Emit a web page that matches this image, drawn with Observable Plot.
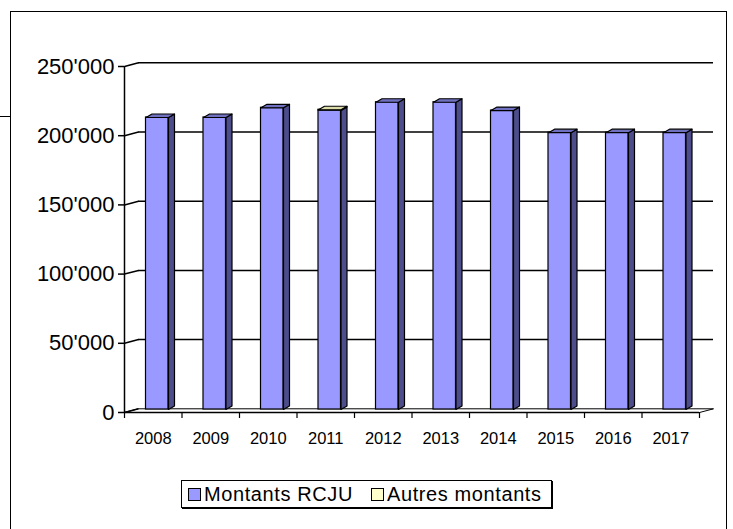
<!DOCTYPE html>
<html>
<head>
<meta charset="utf-8">
<script src="https://cdn.jsdelivr.net/npm/d3@7"></script>
<script src="https://cdn.jsdelivr.net/npm/@observablehq/plot@0.6"></script>
<style>
  body { margin: 0; background: white; font-family: "Liberation Sans", Arial, sans-serif; }
  #wrap { position: relative; width: 733px; height: 529px; overflow: hidden; }
  #frame { position: absolute; left: 10px; top: 11px; width: 715px; height: 540px; border: 1px solid #000; }
  #frag { position: absolute; left: 0; top: 116px; width: 10px; height: 1px; background: #000; }
  #chart { position: absolute; left: 0; top: 0; }
  #legend { position: absolute; left: 181px; top: 480px; width: 369px; height: 26px; border: 1px solid #000;
            box-shadow: 1px 1px 0 #000; font-size: 20px; letter-spacing: 0.6px; color: #000; }
  .item { position: absolute; top: 0; height: 26px; display: flex; align-items: center; white-space: nowrap; }
  .sw { width: 11px; height: 11px; border: 1px solid #000; margin-right: 3px; }
</style>
</head>
<body>
<div id="wrap">
  <div id="frame"></div>
  <div id="frag"></div>
  <div id="chart"></div>
  <div id="legend"></div>
</div>
<script>
// ---- data ----
const years = [2008, 2009, 2010, 2011, 2012, 2013, 2014, 2015, 2016, 2017];
const rcju = [211000, 211000, 218000, 216000, 222000, 222000, 216000, 200000, 200000, 200000];
const autres = [0, 0, 0, 600, 0, 0, 0, 0, 0, 0];
const seriesNames = ["Montants RCJU", "Autres montants"];
const yTicks = [0, 50000, 100000, 150000, 200000, 250000];

// ---- styles / geometry ----
const W = 733, H = 529, mL = 124, mR = 34, mT = 66, mB = 117;
const xDom = [years[0] - 0.5, years[years.length - 1] + 0.5];
const yDom = [0, 250000];
const pxPerYear = (W - mL - mR) / (xDom[1] - xDom[0]);
const pxPerVal = (H - mT - mB) / (yDom[1] - yDom[0]);
const X = px => px / pxPerYear;
const Y = px => px / pxPerVal;
const wall = {dx: 14, dy: 3.7};
const bar = {left: 21.5, right: 44, depth: 6, rise: 3.5, lift: 3};
const colors = {
  front: ["#9999FF", "#FFFFCC"],
  side: ["#4d4d8c", "#a8a880"],
  top: ["#7070c0", "#dcdcaa"]
};
const legendLeft = [6, 189];
const fmt = d => d3.format(",")(d).replace(/,/g, "'");

// segments (stacked)
const segs = [];
years.forEach((yr, i) => {
  const vals = [rcju[i], autres[i]];
  let base = 0;
  vals.forEach((v, s) => {
    if (v > 0) {
      segs.push({year: yr, s, y1: base, y2: base + v});
      base += v;
    }
  });
});
const tops = years.map(yr => {
  const ss = segs.filter(d => d.year === yr);
  return ss[ss.length - 1];
});
const xl = d => d.year - 0.5 + X(bar.left);
const xr = d => d.year - 0.5 + X(bar.right);

const sidePts = [], topPts = [];
segs.forEach((d, k) => {
  const a = xr(d), b = xr(d) + X(bar.depth), e = Y(bar.rise);
  [[a, d.y1], [b, d.y1 + e], [b, d.y2 + e], [a, d.y2]].forEach(([x, y]) => sidePts.push({id: k, s: d.s, x, y}));
});
tops.forEach((d, k) => {
  const a = xl(d), b = xr(d), dd = X(bar.depth), e = Y(bar.rise);
  [[a, d.y2], [b, d.y2], [b + dd, d.y2 + e], [a + dd, d.y2 + e]].forEach(([x, y]) => topPts.push({id: k, s: d.s, x, y}));
});
const floor = [
  {x: xDom[0], y: 0}, {x: xDom[1], y: 0},
  {x: xDom[1] + X(wall.dx), y: Y(wall.dy)}, {x: xDom[0] + X(wall.dx), y: Y(wall.dy)}
];
const bounds = d3.range(years.length + 1).map(i => xDom[0] + i);

const marks = [
  Plot.line(floor, {x: "x", y: "y", curve: "linear-closed", fill: "white", stroke: "#000", strokeWidth: 1}),
  Plot.ruleY(yTicks.filter(v => v > 0), {x1: xDom[0], x2: xDom[1], dx: wall.dx, dy: -wall.dy, stroke: "#000", strokeWidth: 1.5}),
  Plot.link(yTicks, {x1: xDom[0], y1: d => d, x2: xDom[0] + X(wall.dx), y2: d => d + Y(wall.dy), stroke: "#000", strokeWidth: 1.5}),
  Plot.ruleX([xDom[0]], {y1: yDom[0], y2: yDom[1], stroke: "#000", strokeWidth: 1.5}),
  Plot.ruleY([0], {x1: xDom[0], x2: xDom[1], stroke: "#000", strokeWidth: 1.5}),
  Plot.axisY({ticks: yTicks, tickFormat: fmt, tickSize: 6, tickPadding: 4, fontSize: 22, letterSpacing: "1.2px", strokeWidth: 1.5, label: null}),
  Plot.axisX({ticks: bounds, tickFormat: () => "", tickSize: 6, strokeWidth: 1.2, label: null}),
  Plot.text(years, {x: d => d, y: 0, text: d => String(d), dy: 26, fontSize: 16.5})
];
[0, 1].forEach(s => {
  marks.push(
    Plot.rect(segs.filter(d => d.s === s), {x1: xl, x2: xr, y1: "y1", y2: "y2", dy: -bar.lift,
      fill: colors.front[s], stroke: "#000", strokeWidth: 1.2}),
    Plot.line(sidePts.filter(d => d.s === s), {x: "x", y: "y", z: "id", curve: "linear-closed", dy: -bar.lift,
      fill: colors.side[s], stroke: "#000", strokeWidth: 1.2}),
    Plot.line(topPts.filter(d => d.s === s), {x: "x", y: "y", z: "id", curve: "linear-closed", dy: -bar.lift,
      fill: colors.top[s], stroke: "#000", strokeWidth: 1.2})
  );
});

const chart = Plot.plot({
  width: W, height: H,
  marginLeft: mL, marginRight: mR, marginTop: mT, marginBottom: mB,
  x: {type: "linear", domain: xDom, axis: null, label: null},
  y: {domain: yDom, axis: null, label: null},
  style: {background: "transparent", fontFamily: "Liberation Sans, Arial, sans-serif", color: "#000", overflow: "visible"},
  marks
});
document.getElementById("chart").appendChild(chart);

const legend = document.getElementById("legend");
seriesNames.forEach((name, s) => {
  const it = document.createElement("div");
  it.className = "item";
  it.style.left = legendLeft[s] + "px";
  const sw = document.createElement("div");
  sw.className = "sw";
  sw.style.background = colors.front[s];
  it.appendChild(sw);
  const t = document.createElement("span");
  t.textContent = name;
  it.appendChild(t);
  legend.appendChild(it);
});
</script>
</body>
</html>
